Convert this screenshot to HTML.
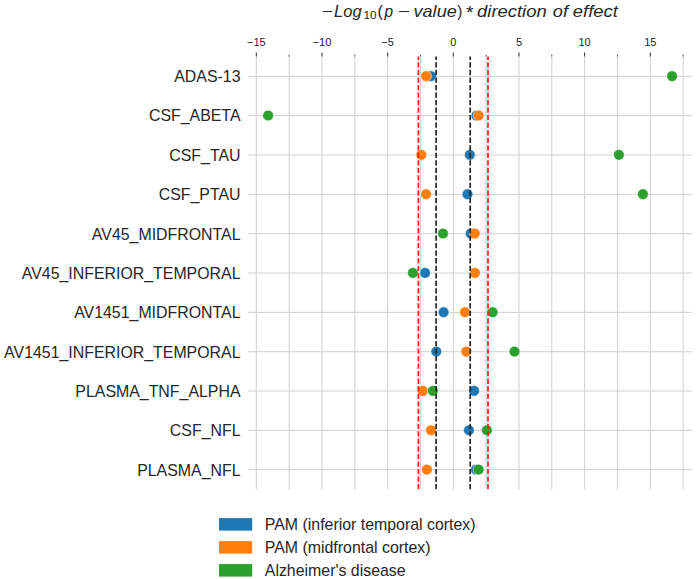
<!DOCTYPE html><html><head><meta charset="utf-8"><style>html,body{margin:0;padding:0;background:#fff;width:700px;height:579px;overflow:hidden}svg{display:block}text{font-family:"Liberation Sans",sans-serif}</style></head><body>
<svg width="700" height="579" viewBox="0 0 700 579">
<rect width="700" height="579" fill="#fff"/>
<line x1="256.31" y1="56.5" x2="256.31" y2="489.3" stroke="#d0d0d0" stroke-width="1"/>
<line x1="289.14" y1="56.5" x2="289.14" y2="489.3" stroke="#d0d0d0" stroke-width="1"/>
<line x1="321.97" y1="56.5" x2="321.97" y2="489.3" stroke="#d0d0d0" stroke-width="1"/>
<line x1="354.80" y1="56.5" x2="354.80" y2="489.3" stroke="#d0d0d0" stroke-width="1"/>
<line x1="387.63" y1="56.5" x2="387.63" y2="489.3" stroke="#d0d0d0" stroke-width="1"/>
<line x1="420.47" y1="56.5" x2="420.47" y2="489.3" stroke="#d0d0d0" stroke-width="1"/>
<line x1="453.30" y1="56.5" x2="453.30" y2="489.3" stroke="#d0d0d0" stroke-width="1"/>
<line x1="486.13" y1="56.5" x2="486.13" y2="489.3" stroke="#d0d0d0" stroke-width="1"/>
<line x1="518.97" y1="56.5" x2="518.97" y2="489.3" stroke="#d0d0d0" stroke-width="1"/>
<line x1="551.80" y1="56.5" x2="551.80" y2="489.3" stroke="#d0d0d0" stroke-width="1"/>
<line x1="584.63" y1="56.5" x2="584.63" y2="489.3" stroke="#d0d0d0" stroke-width="1"/>
<line x1="617.46" y1="56.5" x2="617.46" y2="489.3" stroke="#d0d0d0" stroke-width="1"/>
<line x1="650.29" y1="56.5" x2="650.29" y2="489.3" stroke="#d0d0d0" stroke-width="1"/>
<line x1="683.13" y1="56.5" x2="683.13" y2="489.3" stroke="#d0d0d0" stroke-width="1"/>
<line x1="248.3" y1="76.30" x2="692.1" y2="76.30" stroke="#d0d0d0" stroke-width="1"/>
<line x1="248.3" y1="115.64" x2="692.1" y2="115.64" stroke="#d0d0d0" stroke-width="1"/>
<line x1="248.3" y1="154.99" x2="692.1" y2="154.99" stroke="#d0d0d0" stroke-width="1"/>
<line x1="248.3" y1="194.33" x2="692.1" y2="194.33" stroke="#d0d0d0" stroke-width="1"/>
<line x1="248.3" y1="233.67" x2="692.1" y2="233.67" stroke="#d0d0d0" stroke-width="1"/>
<line x1="248.3" y1="273.02" x2="692.1" y2="273.02" stroke="#d0d0d0" stroke-width="1"/>
<line x1="248.3" y1="312.36" x2="692.1" y2="312.36" stroke="#d0d0d0" stroke-width="1"/>
<line x1="248.3" y1="351.70" x2="692.1" y2="351.70" stroke="#d0d0d0" stroke-width="1"/>
<line x1="248.3" y1="391.04" x2="692.1" y2="391.04" stroke="#d0d0d0" stroke-width="1"/>
<line x1="248.3" y1="430.39" x2="692.1" y2="430.39" stroke="#d0d0d0" stroke-width="1"/>
<line x1="248.3" y1="469.73" x2="692.1" y2="469.73" stroke="#d0d0d0" stroke-width="1"/>
<line x1="256.31" y1="52.5" x2="256.31" y2="56.5" stroke="#262626" stroke-width="1"/>
<line x1="321.97" y1="52.5" x2="321.97" y2="56.5" stroke="#262626" stroke-width="1"/>
<line x1="387.63" y1="52.5" x2="387.63" y2="56.5" stroke="#262626" stroke-width="1"/>
<line x1="453.30" y1="52.5" x2="453.30" y2="56.5" stroke="#262626" stroke-width="1"/>
<line x1="518.97" y1="52.5" x2="518.97" y2="56.5" stroke="#262626" stroke-width="1"/>
<line x1="584.63" y1="52.5" x2="584.63" y2="56.5" stroke="#262626" stroke-width="1"/>
<line x1="650.29" y1="52.5" x2="650.29" y2="56.5" stroke="#262626" stroke-width="1"/>
<line x1="289.14" y1="54.5" x2="289.14" y2="56.5" stroke="#262626" stroke-width="0.8"/>
<line x1="354.80" y1="54.5" x2="354.80" y2="56.5" stroke="#262626" stroke-width="0.8"/>
<line x1="420.47" y1="54.5" x2="420.47" y2="56.5" stroke="#262626" stroke-width="0.8"/>
<line x1="486.13" y1="54.5" x2="486.13" y2="56.5" stroke="#262626" stroke-width="0.8"/>
<line x1="551.80" y1="54.5" x2="551.80" y2="56.5" stroke="#262626" stroke-width="0.8"/>
<line x1="617.46" y1="54.5" x2="617.46" y2="56.5" stroke="#262626" stroke-width="0.8"/>
<line x1="683.13" y1="54.5" x2="683.13" y2="56.5" stroke="#262626" stroke-width="0.8"/>
<text x="256.31" y="46.4" font-size="11" fill="#262626" text-anchor="middle">−15</text>
<text x="321.97" y="46.4" font-size="11" fill="#262626" text-anchor="middle">−10</text>
<text x="387.63" y="46.4" font-size="11" fill="#262626" text-anchor="middle">−5</text>
<text x="453.30" y="46.4" font-size="11" fill="#262626" text-anchor="middle">0</text>
<text x="518.97" y="46.4" font-size="11" fill="#262626" text-anchor="middle">5</text>
<text x="584.63" y="46.4" font-size="11" fill="#262626" text-anchor="middle">10</text>
<text x="650.29" y="46.4" font-size="11" fill="#262626" text-anchor="middle">15</text>
<text x="240.5" y="82.15" font-size="15.9" fill="#262626" text-anchor="end">ADAS-13</text>
<text x="240.5" y="121.49" font-size="15.9" fill="#262626" text-anchor="end">CSF_ABETA</text>
<text x="240.5" y="160.84" font-size="15.9" fill="#262626" text-anchor="end">CSF_TAU</text>
<text x="240.5" y="200.18" font-size="15.9" fill="#262626" text-anchor="end">CSF_PTAU</text>
<text x="240.5" y="239.52" font-size="15.9" fill="#262626" text-anchor="end">AV45_MIDFRONTAL</text>
<text x="240.5" y="278.87" font-size="15.9" fill="#262626" text-anchor="end">AV45_INFERIOR_TEMPORAL</text>
<text x="240.5" y="318.21" font-size="15.9" fill="#262626" text-anchor="end">AV1451_MIDFRONTAL</text>
<text x="240.5" y="357.55" font-size="15.9" fill="#262626" text-anchor="end">AV1451_INFERIOR_TEMPORAL</text>
<text x="240.5" y="396.89" font-size="15.9" fill="#262626" text-anchor="end">PLASMA_TNF_ALPHA</text>
<text x="240.5" y="436.24" font-size="15.9" fill="#262626" text-anchor="end">CSF_NFL</text>
<text x="240.5" y="475.58" font-size="15.9" fill="#262626" text-anchor="end">PLASMA_NFL</text>
<circle cx="430.9" cy="76.15" r="5.35" fill="#1f77b4" stroke="#fff" stroke-width="0.5"/>
<circle cx="426.1" cy="76.15" r="5.35" fill="#ff7f0e" stroke="#fff" stroke-width="0.5"/>
<circle cx="672.1" cy="76.15" r="5.35" fill="#2ca02c" stroke="#fff" stroke-width="0.5"/>
<circle cx="476.5" cy="115.49" r="5.35" fill="#1f77b4" stroke="#fff" stroke-width="0.5"/>
<circle cx="478.5" cy="115.49" r="5.35" fill="#ff7f0e" stroke="#fff" stroke-width="0.5"/>
<circle cx="268.1" cy="115.49" r="5.35" fill="#2ca02c" stroke="#fff" stroke-width="0.5"/>
<circle cx="469.8" cy="154.84" r="5.35" fill="#1f77b4" stroke="#fff" stroke-width="0.5"/>
<circle cx="421.3" cy="154.84" r="5.35" fill="#ff7f0e" stroke="#fff" stroke-width="0.5"/>
<circle cx="618.9" cy="154.84" r="5.35" fill="#2ca02c" stroke="#fff" stroke-width="0.5"/>
<circle cx="467.5" cy="194.18" r="5.35" fill="#1f77b4" stroke="#fff" stroke-width="0.5"/>
<circle cx="426.1" cy="194.18" r="5.35" fill="#ff7f0e" stroke="#fff" stroke-width="0.5"/>
<circle cx="642.9" cy="194.18" r="5.35" fill="#2ca02c" stroke="#fff" stroke-width="0.5"/>
<circle cx="470.7" cy="233.52" r="5.35" fill="#1f77b4" stroke="#fff" stroke-width="0.5"/>
<circle cx="474.7" cy="233.52" r="5.35" fill="#ff7f0e" stroke="#fff" stroke-width="0.5"/>
<circle cx="443.0" cy="233.52" r="5.35" fill="#2ca02c" stroke="#fff" stroke-width="0.5"/>
<circle cx="425.1" cy="272.87" r="5.35" fill="#1f77b4" stroke="#fff" stroke-width="0.5"/>
<circle cx="475.0" cy="272.87" r="5.35" fill="#ff7f0e" stroke="#fff" stroke-width="0.5"/>
<circle cx="412.9" cy="272.87" r="5.35" fill="#2ca02c" stroke="#fff" stroke-width="0.5"/>
<circle cx="443.6" cy="312.21" r="5.35" fill="#1f77b4" stroke="#fff" stroke-width="0.5"/>
<circle cx="465.0" cy="312.21" r="5.35" fill="#ff7f0e" stroke="#fff" stroke-width="0.5"/>
<circle cx="492.6" cy="312.21" r="5.35" fill="#2ca02c" stroke="#fff" stroke-width="0.5"/>
<circle cx="436.3" cy="351.55" r="5.35" fill="#1f77b4" stroke="#fff" stroke-width="0.5"/>
<circle cx="466.3" cy="351.55" r="5.35" fill="#ff7f0e" stroke="#fff" stroke-width="0.5"/>
<circle cx="514.5" cy="351.55" r="5.35" fill="#2ca02c" stroke="#fff" stroke-width="0.5"/>
<circle cx="474.1" cy="390.89" r="5.35" fill="#1f77b4" stroke="#fff" stroke-width="0.5"/>
<circle cx="422.8" cy="390.89" r="5.35" fill="#ff7f0e" stroke="#fff" stroke-width="0.5"/>
<circle cx="432.9" cy="390.89" r="5.35" fill="#2ca02c" stroke="#fff" stroke-width="0.5"/>
<circle cx="468.9" cy="430.24" r="5.35" fill="#1f77b4" stroke="#fff" stroke-width="0.5"/>
<circle cx="431.0" cy="430.24" r="5.35" fill="#ff7f0e" stroke="#fff" stroke-width="0.5"/>
<circle cx="486.9" cy="430.24" r="5.35" fill="#2ca02c" stroke="#fff" stroke-width="0.5"/>
<circle cx="476.0" cy="469.58" r="5.35" fill="#1f77b4" stroke="#fff" stroke-width="0.5"/>
<circle cx="426.9" cy="469.58" r="5.35" fill="#ff7f0e" stroke="#fff" stroke-width="0.5"/>
<circle cx="478.6" cy="469.58" r="5.35" fill="#2ca02c" stroke="#fff" stroke-width="0.5"/>
<line x1="418.4" y1="489.3" x2="418.4" y2="56.5" stroke="#ff1a1a" stroke-width="1.7" stroke-dasharray="5.3 2.23"/>
<line x1="436.1" y1="489.3" x2="436.1" y2="56.5" stroke="#262626" stroke-width="1.7" stroke-dasharray="5.3 2.23"/>
<line x1="470.2" y1="489.3" x2="470.2" y2="56.5" stroke="#262626" stroke-width="1.7" stroke-dasharray="5.3 2.23"/>
<line x1="488.0" y1="489.3" x2="488.0" y2="56.5" stroke="#ff1a1a" stroke-width="1.7" stroke-dasharray="5.3 2.23"/>
<text x="321.74" y="17.2" font-size="16.5" fill="#262626" textLength="11.09" lengthAdjust="spacingAndGlyphs">−</text>
<text x="334.10" y="17.2" font-size="16.5" font-style="italic" fill="#262626" textLength="27.58" lengthAdjust="spacingAndGlyphs">Log</text>
<text x="363.40" y="19.4" font-size="11" fill="#262626" textLength="13.14" lengthAdjust="spacingAndGlyphs">10</text>
<text x="377.41" y="17.2" font-size="16.5" fill="#262626" textLength="5.44" lengthAdjust="spacingAndGlyphs">(</text>
<text x="384.53" y="17.2" font-size="16.5" font-style="italic" fill="#262626" textLength="8.58" lengthAdjust="spacingAndGlyphs">p</text>
<text x="397.98" y="17.2" font-size="16.5" fill="#262626" textLength="11.81" lengthAdjust="spacingAndGlyphs">−</text>
<text x="413.50" y="17.2" font-size="16.5" font-style="italic" fill="#262626" textLength="43.27" lengthAdjust="spacingAndGlyphs">value</text>
<text x="457.17" y="17.2" font-size="16.5" fill="#262626" textLength="5.05" lengthAdjust="spacingAndGlyphs">)</text>
<text x="466.00" y="19.3" font-size="18.6" fill="#262626" textLength="7.59" lengthAdjust="spacingAndGlyphs">*</text>
<text x="477.14" y="17.2" font-size="16.5" font-style="italic" fill="#262626" textLength="69.53" lengthAdjust="spacingAndGlyphs">direction</text>
<text x="552.85" y="17.2" font-size="16.5" font-style="italic" fill="#262626" textLength="15.12" lengthAdjust="spacingAndGlyphs">of</text>
<text x="572.84" y="17.2" font-size="16.5" font-style="italic" fill="#262626" textLength="45.02" lengthAdjust="spacingAndGlyphs">effect</text>
<rect x="219" y="518.1" width="33.2" height="12.5" fill="#1f77b4"/>
<text x="264.8" y="529.7" font-size="15.9" fill="#262626">PAM (inferior temporal cortex)</text>
<rect x="219" y="541.1" width="33.2" height="12.5" fill="#ff7f0e"/>
<text x="264.8" y="552.7" font-size="15.9" fill="#262626">PAM (midfrontal cortex)</text>
<rect x="219" y="564.1" width="33.2" height="12.5" fill="#2ca02c"/>
<text x="264.8" y="575.7" font-size="15.9" fill="#262626">Alzheimer's disease</text>
</svg></body></html>
